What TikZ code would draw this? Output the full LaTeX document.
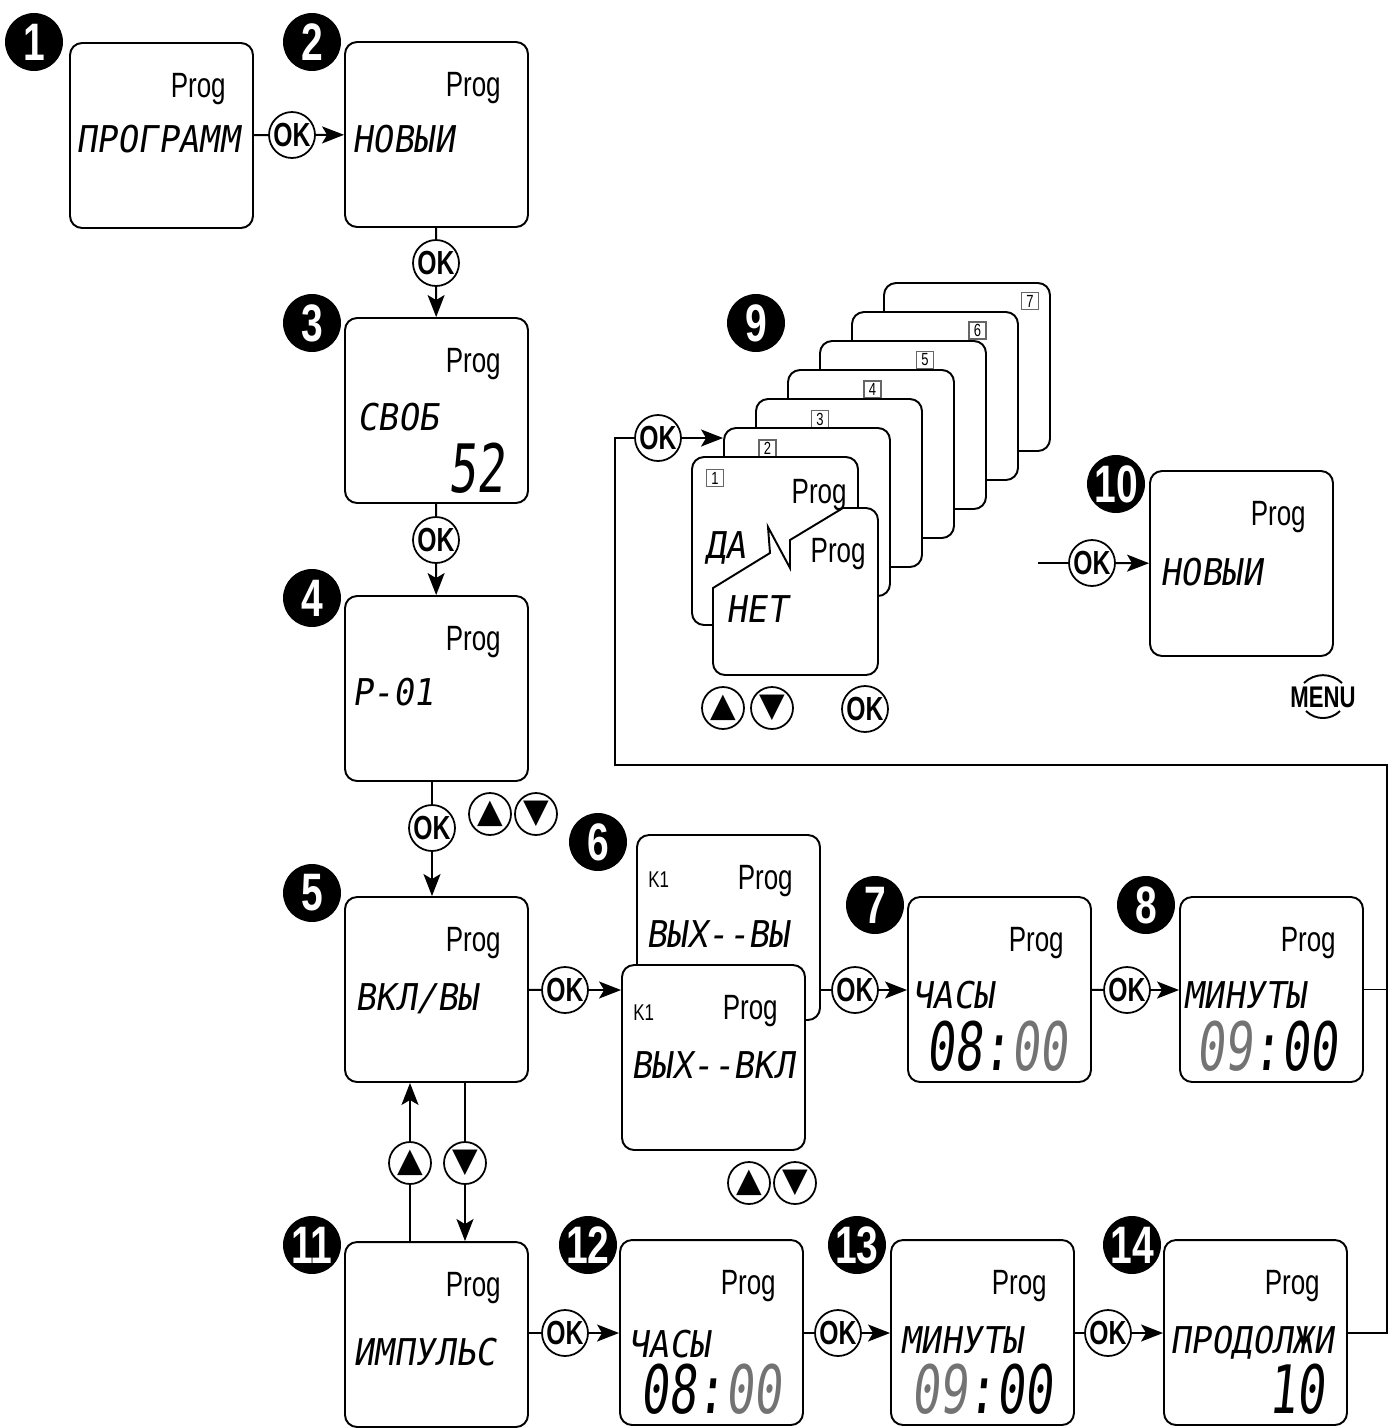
\documentclass[tikz,border=0pt]{standalone}
\usepackage{fontspec}
\setmainfont{Liberation Sans}
\newfontfamily\progfont[FakeStretch=0.74]{Liberation Sans}
\newfontfamily\lcdfont[FakeSlant=0.15,FakeStretch=0.92]{DejaVu Sans Mono}
\newfontfamily\lcdbig[FakeSlant=0.1,FakeStretch=0.7]{DejaVu Sans Mono}
\newfontfamily\symfont{DejaVu Sans}
\usepackage{tikz}
\usetikzlibrary{arrows.meta,calc}

\tikzset{
  screen/.style={draw, line width=1.1pt, rounded corners=0.24cm, fill=white,
    minimum width=3.66cm, minimum height=3.7cm},
  card/.style={draw, line width=1.1pt, rounded corners=0.24cm, fill=white,
    minimum width=3.32cm, minimum height=3.36cm},
  prog/.style={font=\progfont\fontsize{20}{20}\selectfont, anchor=base east, inner sep=0},
  kone/.style={font=\progfont\fontsize{13}{13}\selectfont, anchor=base west, inner sep=0},
  lcd/.style={font=\lcdfont\fontsize{21}{21}\selectfont, anchor=base west, inner sep=0},
  bigdig/.style={font=\lcdbig\fontsize{38}{38}\selectfont, anchor=base, inner sep=0},
  okbtn/.style={circle, draw, line width=1pt, fill=white, minimum size=0.92cm,
    inner sep=0, font=\progfont\bfseries\fontsize{19}{19}\selectfont},
  arrbtn/.style={circle, draw, line width=1pt, fill=white, minimum size=0.84cm,
    inner sep=0, font=\symfont\fontsize{19}{19}\selectfont},
  badge/.style={circle, fill=black, text=white, minimum size=1.16cm, inner sep=0,
    font=\progfont\bfseries\fontsize{30}{30}\selectfont},
  cardno/.style={draw=black!60, line width=0.6pt, fill=white, minimum size=0.34cm,
    inner sep=0, font=\progfont\fontsize{10}{10}\selectfont},
  link/.style={line width=1.1pt},
  arr/.style={line width=1.1pt, -{Stealth[length=0.44cm,width=0.34cm,inset=0.1cm]}},
}

\begin{document}
\begin{tikzpicture}[x=0.02cm,y=-0.02cm]

\useasboundingbox (0,0) rectangle (1396,1428);

% screens
\node[screen] (s1)  at (161.5,135.5)  {};
\node[screen] (s2)  at (436.5,134.5)  {};
\node[screen] (s3)  at (436.5,410.5)  {};
\node[screen] (s4)  at (436.5,688.5)  {};
\node[screen] (s5)  at (436.5,989.5)  {};
\node[screen] (s6b) at (728.5,927.5)  {};
\node[screen] (s6f) at (713.5,1057.5) {};
\node[screen] (s7)  at (999.5,989.5)  {};
\node[screen] (s8)  at (1271.5,989.5) {};
\node[screen] (s10) at (1241.5,563.5) {};
\node[screen] (s11) at (436.5,1334.5) {};
\node[screen] (s12) at (711.5,1332.5) {};
\node[screen] (s13) at (982.5,1332.5) {};
\node[screen] (s14) at (1255.5,1332.5) {};

\foreach \s in {s1,s2,s3,s4,s5,s6b,s6f,s7,s8,s10,s11,s12,s13,s14}
    \node[prog] (p-\s) at ($(\s.north west)+(157,55)$) {Prog};

% stack of day cards
\foreach \k in {7,6,...,1} {
    \node[card] (c\k) at ({775+32*(\k-1)},{541-29*(\k-1)}) {};
    \node[cardno] (n\k) at ({715+52.5*(\k-1)},{478-29.5*(\k-1)}) {\k};
}
\node[prog] (p-c1) at (847,503) {Prog};
\node[lcd] (t-da) at (705,558) {ДА};

\draw[line width=1.1pt, fill=white] (713,588) -- (770,553) -- (768,527) -- (790,568)
    -- (790,540) -- (843,508) -- (866,508) arc[start angle=90, end angle=0, radius=0.24cm]
    -- (878,663) arc[start angle=0, end angle=-90, radius=0.24cm]
    -- (725,675) arc[start angle=-90, end angle=-180, radius=0.24cm] -- cycle;
\node[prog] (p-c0) at (866,562) {Prog};
\node[lcd] (t-net) at (726,622) {НЕТ};

% screen texts
\node[lcd] (t1)  at (76,152)    {ПРОГРАММ};
\node[lcd] (t2)  at (352,152)   {НОВЫИ};
\node[lcd] (t3)  at (357,430)   {СВОБ};
\node[bigdig, anchor=base east] (d3) at (505,492) {52};
\node[lcd] (t4)  at (352,705)   {P-01};
\node[lcd] (t5)  at (355,1010)  {ВКЛ/ВЫ};
\node[kone] (k6b) at (648,887)  {K1};
\node[lcd] (t6b) at (646,947)   {ВЫХ--ВЫ};
\node[kone] (k6f) at (633,1020) {K1};
\node[lcd] (t6f) at (631,1078)  {ВЫХ--ВКЛ};
\node[lcd] (t7)  at (912,1008)  {ЧАСЫ};
\node[bigdig] (d7) at (997,1070) {08:\textcolor{black!55}{00}};
\node[lcd] (t8)  at (1183,1008) {МИНУТЫ};
\node[bigdig] (d8) at (1267,1070) {\textcolor{black!55}{09}:00};
\node[lcd] (t10) at (1160,585)  {НОВЫИ};
\node[lcd] (t11) at (353,1365)  {ИМПУЛЬС};
\node[lcd] (t12) at (628,1357)  {ЧАСЫ};
\node[bigdig] (d12) at (711,1413) {08:\textcolor{black!55}{00}};
\node[lcd] (t13) at (900,1353)  {МИНУТЫ};
\node[bigdig] (d13) at (982,1413) {\textcolor{black!55}{09}:00};
\node[lcd] (t14) at (1170,1353) {ПРОДОЛЖИ};
\node[bigdig, anchor=base east] (d14) at (1325,1413) {10};

% buttons
\node[okbtn] (ok1)  at (292,135)   {OK};
\node[okbtn] (ok2)  at (436,263)   {OK};
\node[okbtn] (ok3)  at (436,540)   {OK};
\node[okbtn] (ok4)  at (432,828)   {OK};
\node[okbtn] (ok5)  at (565,990)   {OK};
\node[okbtn] (ok6)  at (855,990)   {OK};
\node[okbtn] (ok7)  at (1127,990)  {OK};
\node[okbtn] (ok9)  at (658,438)   {OK};
\node[okbtn] (ok9b) at (865,709)   {OK};
\node[okbtn] (ok10) at (1092,563)  {OK};
\node[okbtn] (ok11) at (565,1333)  {OK};
\node[okbtn] (ok12) at (838,1333)  {OK};
\node[okbtn] (ok13) at (1108,1333) {OK};

\node[arrbtn] (up4) at (490,814)  {▲};
\node[arrbtn] (dn4) at (536,814)  {▼};
\node[arrbtn] (up5) at (410,1163) {▲};
\node[arrbtn] (dn5) at (465,1163) {▼};
\node[arrbtn] (up6) at (749,1183) {▲};
\node[arrbtn] (dn6) at (795,1183) {▼};
\node[arrbtn] (up9) at (723,708)  {▲};
\node[arrbtn] (dn9) at (772,708)  {▼};

\node[font=\progfont\bfseries\fontsize{17}{17}\selectfont, inner sep=0] (menu) at (1323,697) {MENU};
\draw[link] (1304,683) to[bend left=45] (1342,683);
\draw[link] (1306,711) to[bend right=45] (1340,711);

% connectors
\coordinate (rt) at (1387,765);
\coordinate (rb) at (1387,1333);
\coordinate (lt) at (615,765);
\coordinate (in10) at (1038,563);

\draw[link] (s1) -- (ok1);
\draw[arr]  (ok1) -- (s2);
\draw[link] (s2) -- (ok2);
\draw[arr]  (ok2) -- (s3);
\draw[link] (s3) -- (ok3);
\draw[arr]  (ok3) -- (s4);
\draw[link] (ok4 |- s4.south) -- (ok4);
\draw[arr]  (ok4) -- (ok4 |- s5.north);
\draw[link] (s5) -- (ok5);
\draw[arr]  (ok5) -- (ok5 -| s6f.west);
\draw[link] (ok6 -| s6b.east) -- (ok6);
\draw[arr]  (ok6) -- (ok6 -| s7.west);
\draw[link] (s7) -- (ok7);
\draw[arr]  (ok7) -- (ok7 -| s8.west);
\draw[link] (s8.east) -- (s8.east -| rt);

\draw[link] (up5 |- s11.north) -- (up5);
\draw[arr]  (up5) -- (up5 |- s5.south);
\draw[link] (dn5 |- s5.south) -- (dn5);
\draw[arr]  (dn5) -- (dn5 |- s11.north);

\draw[link] (ok11 -| s11.east) -- (ok11);
\draw[arr]  (ok11) -- (ok11 -| s12.west);
\draw[link] (ok12 -| s12.east) -- (ok12);
\draw[arr]  (ok12) -- (ok12 -| s13.west);
\draw[link] (ok13 -| s13.east) -- (ok13);
\draw[arr]  (ok13) -- (ok13 -| s14.west);

\draw[link] (rb -| s14.east) -- (rb) -- (rt) -- (lt) -- (lt |- ok9) -- (ok9);
\draw[arr]  (ok9) -- (ok9 -| c2.west);

\draw[link] (in10) -- (ok10);
\draw[arr]  (ok10) -- (s10);

% step numbers
\foreach \n/\x/\y in {1/34/42, 2/312/42, 3/312/323, 4/312/598, 5/312/893,
    6/598/842, 7/875/905, 8/1146/905, 9/756/323, 10/1116/484,
    11/312/1245, 12/588/1245, 13/857/1245, 14/1132/1245}
    \node[badge] (b\n) at (\x,\y) {\n};

\end{tikzpicture}
\end{document}
